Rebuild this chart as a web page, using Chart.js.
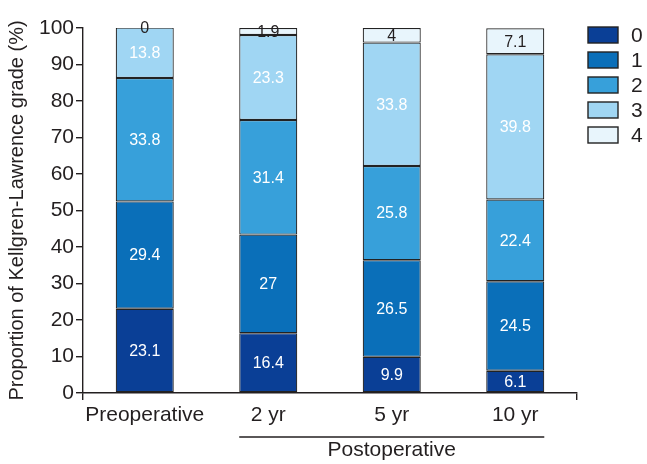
<!DOCTYPE html>
<html>
<head>
<meta charset="utf-8">
<script src="https://cdn.jsdelivr.net/npm/chart.js@4"></script>
<style>
  html, body { margin: 0; padding: 0; background: #fff; }
  #wrap { width: 647px; height: 464px; }
</style>
</head>
<body>
<div id="wrap"><canvas id="klChart"></canvas></div>
<script>
// du lieu doc tu hinh
var categories = ['Preoperative', '2 yr', '5 yr', '10 yr'];
var grades = ['0', '1', '2', '3', '4'];
var grade0 = [23.1, 16.4, 9.9, 6.1];
var grade1 = [29.4, 27, 26.5, 24.5];
var grade2 = [33.8, 31.4, 25.8, 22.4];
var grade3 = [13.8, 23.3, 33.8, 39.8];
var grade4 = [0, 1.9, 4, 7.1];
var yTicks = [0, 10, 20, 30, 40, 50, 60, 70, 80, 90, 100];

var colors = ['#0a3f96', '#0a6fb9', '#37a0da', '#a0d6f3', '#e8f5fc'];
var labelColors = ['#fff', '#fff', '#fff', '#fff', '#231f20'];
var FONT = "'Liberation Sans', Arial, sans-serif";

function mkSet(i, vals) {
    return {
        label: grades[i], data: vals, backgroundColor: colors[i],
        borderColor: '#222', borderWidth: 1.2, borderSkipped: false,
        barPercentage: 0.94, categoryPercentage: 0.5
    };
}

// ghi so len cot
var valueLabels = {
    id: 'valueLabels',
    afterDatasetsDraw: function (chart) {
        var ctx = chart.ctx;
        ctx.save();
        ctx.font = '16px ' + FONT;
        ctx.textAlign = 'center';
        ctx.textBaseline = 'middle';
        chart.data.datasets.forEach(function (ds, i) {
            chart.getDatasetMeta(i).data.forEach(function (bar, j) {
                ctx.fillStyle = labelColors[i];
                ctx.fillText(String(ds.data[j]), bar.x, (bar.y + bar.base) / 2 + 1);
            });
        });
        ctx.restore();
    }
};

// chu thich ben phai
var sideLegend = {
    id: 'sideLegend',
    afterDraw: function (chart) {
        var ctx = chart.ctx;
        ctx.save();
        chart.data.datasets.forEach(function (ds, i) {
            var y = 27 + i * 25;
            ctx.fillStyle = ds.backgroundColor;
            ctx.fillRect(588, y, 30, 16);
            ctx.strokeStyle = '#222';
            ctx.lineWidth = 1.4;
            ctx.strokeRect(588, y, 30, 16);
            ctx.fillStyle = '#231f20';
            ctx.font = '21px ' + FONT;
            ctx.textAlign = 'left';
            ctx.textBaseline = 'middle';
            ctx.fillText(ds.label, 631, y + 9);
        });
        ctx.restore();
    }
};

// ngoac Postoperative
var postBracket = {
    id: 'postBracket',
    afterDraw: function (chart) {
        var ctx = chart.ctx;
        var m1 = chart.getDatasetMeta(0).data;
        var x1 = m1[1].x - m1[1].width / 2;
        var x2 = m1[3].x + m1[3].width / 2;
        ctx.save();
        ctx.strokeStyle = '#231f20';
        ctx.lineWidth = 1.3;
        ctx.beginPath();
        ctx.moveTo(x1, 437);
        ctx.lineTo(x2, 437);
        ctx.stroke();
        ctx.fillStyle = '#231f20';
        ctx.font = '21px ' + FONT;
        ctx.textAlign = 'center';
        ctx.textBaseline = 'middle';
        ctx.fillText('Postoperative', (x1 + x2) / 2, 450);
        ctx.restore();
    }
};

var myChart = new Chart(document.getElementById('klChart'), {
    type: 'bar',
    data: {
        labels: categories,
        datasets: [mkSet(0, grade0), mkSet(1, grade1), mkSet(2, grade2), mkSet(3, grade3), mkSet(4, grade4)]
    },
    options: {
        responsive: true,
        maintainAspectRatio: false,
        animation: false,
        layout: { padding: { top: 28, right: 70, left: 0, bottom: 0 } },
        scales: {
            x: {
                stacked: true,
                afterFit: function (s) { s.height = 71; },
                border: { display: true, color: '#231f20', width: 1.4 },
                grid: {
                    drawOnChartArea: false, tickLength: 7, lineWidth: 1.4,
                    color: function (c) { return (c.index === 0 || c.type === 'scale') ? '#231f20' : 'rgba(0,0,0,0)'; }
                },
                ticks: { color: '#231f20', font: { family: FONT, size: 21 }, padding: 3, maxRotation: 0 }
            },
            y: {
                stacked: true,
                min: 0, max: 100,
                afterFit: function (s) { s.width = 83; },
                afterBuildTicks: function (s) { s.ticks = yTicks.map(function (v) { return { value: v }; }); },
                border: { display: true, color: '#231f20', width: 1.4 },
                grid: { drawOnChartArea: false, tickLength: 7, color: '#231f20', lineWidth: 1.4 },
                ticks: { color: '#231f20', font: { family: FONT, size: 21 }, padding: 2 },
                title: {
                    display: true, text: 'Proportion of Kellgren-Lawrence grade (%)',
                    color: '#231f20', font: { family: FONT, size: 20 }, padding: { top: 5, bottom: 0 }
                }
            }
        },
        plugins: {
            legend: { display: false },
            tooltip: { enabled: false }
        }
    },
    plugins: [valueLabels, sideLegend, postBracket]
});
</script>
</body>
</html>
